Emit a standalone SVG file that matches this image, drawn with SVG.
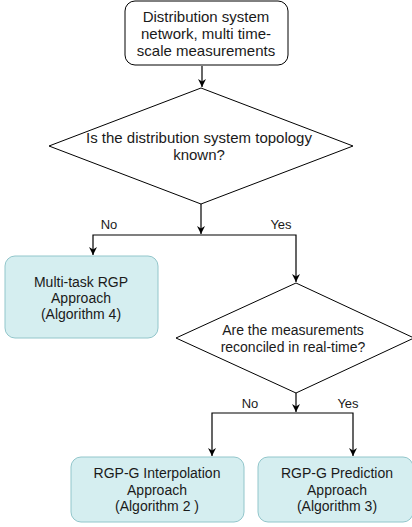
<svg xmlns="http://www.w3.org/2000/svg" width="412" height="527" viewBox="0 0 412 527">
<style>
text{font-family:"Liberation Sans",Arial,sans-serif;font-size:14px;fill:#1a1a1a;text-anchor:middle}
.big{font-size:15px}
.lbl{font-size:13px}
.proc{fill:#d5eef0;stroke:#92c6cb;stroke-width:1}
.start{fill:#fff;stroke:#000;stroke-width:1}
.dec{fill:#fff;stroke:#000;stroke-width:1}
.conn{fill:none;stroke:#000;stroke-width:1.2}
</style>
<defs>
<marker id="ah" viewBox="0 0 10 10" refX="10" refY="5" markerWidth="8" markerHeight="8" markerUnits="userSpaceOnUse" orient="auto"><path d="M0,0 L10,5 L0,10 L3,5 z" fill="#000"/></marker>
</defs>
<g id="connectors">
<path class="conn" d="M202,66 L202,87" marker-end="url(#ah)"/>
<path class="conn" d="M201,204 L201,234" marker-end="url(#ah)"/>
<path class="conn" d="M201,235 L93,235 L93,255" marker-end="url(#ah)"/>
<path class="conn" d="M201,235 L296,235 L296,282" marker-end="url(#ah)"/>
<path class="conn" d="M296,393 L296,412" marker-end="url(#ah)"/>
<path class="conn" d="M296,413 L212,413 L212,456" marker-end="url(#ah)"/>
<path class="conn" d="M296,413 L353,413 L353,456" marker-end="url(#ah)"/>
<text class="lbl" x="109" y="229">No</text>
<text class="lbl" x="281" y="229">Yes</text>
<text class="lbl" x="250" y="408">No</text>
<text class="lbl" x="348" y="408">Yes</text>
</g>
<g id="start">
<rect class="start" x="125" y="1" width="163" height="64" rx="10"/>
<text class="big" x="206" y="22">Distribution system</text>
<text class="big" x="206" y="39">network, multi time-</text>
<text class="big" x="206" y="56">scale measurements</text>
</g>
<g id="topology">
<polygon class="dec" points="201,88 353,146 201,204 49,146"/>
<text class="big" x="199" y="143">Is the distribution system topology</text>
<text class="big" x="199" y="160">known?</text>
</g>
<g id="multitask">
<rect class="proc" x="5" y="256" width="153" height="82" rx="10"/>
<text x="81" y="287">Multi-task RGP</text>
<text x="81" y="303">Approach</text>
<text x="81" y="319">(Algorithm 4)</text>
</g>
<g id="realtime">
<polygon class="dec" points="296,283 414,338 296,393 176,338"/>
<text x="293" y="335">Are the measurements</text>
<text x="293" y="352">reconciled in real-time?</text>
</g>
<g id="interp">
<rect class="proc" x="71" y="457" width="173" height="65" rx="10"/>
<text x="157" y="478">RGP-G Interpolation</text>
<text x="157" y="495">Approach</text>
<text x="157" y="511">(Algorithm 2 )</text>
</g>
<g id="predict">
<rect class="proc" x="258" y="457" width="155" height="65" rx="10"/>
<text x="337" y="478">RGP-G Prediction</text>
<text x="337" y="495">Approach</text>
<text x="337" y="511">(Algorithm 3)</text>
</g>
</svg>
